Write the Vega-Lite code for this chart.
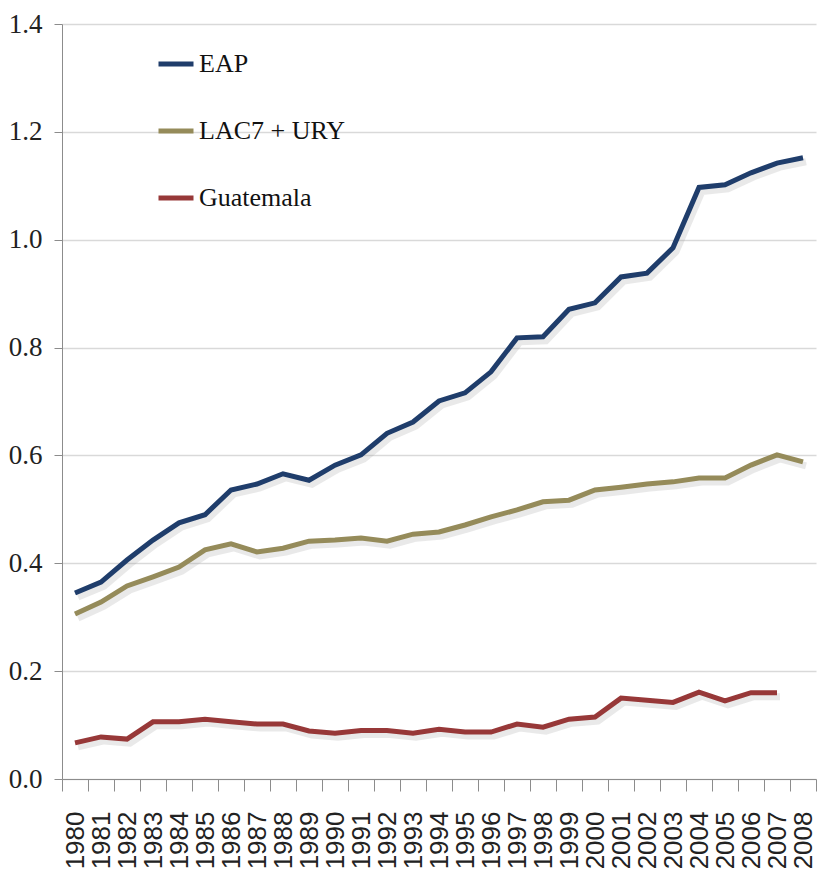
{
  "$schema": "https://vega.github.io/schema/vega-lite/v6.json",
  "width": 754,
  "height": 755,
  "autosize": "none",
  "padding": {"left": 62, "top": 24, "right": 3, "bottom": 109},
  "background": "white",
  "config": {"view": {"stroke": null}},
  "datasets": {
    "d": [
      {"year": 1980, "series": "EAP", "value": 0.345},
      {"year": 1981, "series": "EAP", "value": 0.365},
      {"year": 1982, "series": "EAP", "value": 0.406},
      {"year": 1983, "series": "EAP", "value": 0.443},
      {"year": 1984, "series": "EAP", "value": 0.475},
      {"year": 1985, "series": "EAP", "value": 0.49},
      {"year": 1986, "series": "EAP", "value": 0.536},
      {"year": 1987, "series": "EAP", "value": 0.547},
      {"year": 1988, "series": "EAP", "value": 0.566},
      {"year": 1989, "series": "EAP", "value": 0.554},
      {"year": 1990, "series": "EAP", "value": 0.582},
      {"year": 1991, "series": "EAP", "value": 0.601},
      {"year": 1992, "series": "EAP", "value": 0.641},
      {"year": 1993, "series": "EAP", "value": 0.662},
      {"year": 1994, "series": "EAP", "value": 0.701},
      {"year": 1995, "series": "EAP", "value": 0.716},
      {"year": 1996, "series": "EAP", "value": 0.755},
      {"year": 1997, "series": "EAP", "value": 0.818},
      {"year": 1998, "series": "EAP", "value": 0.82},
      {"year": 1999, "series": "EAP", "value": 0.871},
      {"year": 2000, "series": "EAP", "value": 0.883},
      {"year": 2001, "series": "EAP", "value": 0.931},
      {"year": 2002, "series": "EAP", "value": 0.938},
      {"year": 2003, "series": "EAP", "value": 0.985},
      {"year": 2004, "series": "EAP", "value": 1.097},
      {"year": 2005, "series": "EAP", "value": 1.102},
      {"year": 2006, "series": "EAP", "value": 1.124},
      {"year": 2007, "series": "EAP", "value": 1.142},
      {"year": 2008, "series": "EAP", "value": 1.152},
      {"year": 1980, "series": "LAC7 + URY", "value": 0.306},
      {"year": 1981, "series": "LAC7 + URY", "value": 0.328},
      {"year": 1982, "series": "LAC7 + URY", "value": 0.358},
      {"year": 1983, "series": "LAC7 + URY", "value": 0.375},
      {"year": 1984, "series": "LAC7 + URY", "value": 0.393},
      {"year": 1985, "series": "LAC7 + URY", "value": 0.425},
      {"year": 1986, "series": "LAC7 + URY", "value": 0.436},
      {"year": 1987, "series": "LAC7 + URY", "value": 0.421},
      {"year": 1988, "series": "LAC7 + URY", "value": 0.428},
      {"year": 1989, "series": "LAC7 + URY", "value": 0.441},
      {"year": 1990, "series": "LAC7 + URY", "value": 0.443},
      {"year": 1991, "series": "LAC7 + URY", "value": 0.447},
      {"year": 1992, "series": "LAC7 + URY", "value": 0.441},
      {"year": 1993, "series": "LAC7 + URY", "value": 0.454},
      {"year": 1994, "series": "LAC7 + URY", "value": 0.458},
      {"year": 1995, "series": "LAC7 + URY", "value": 0.471},
      {"year": 1996, "series": "LAC7 + URY", "value": 0.486},
      {"year": 1997, "series": "LAC7 + URY", "value": 0.499},
      {"year": 1998, "series": "LAC7 + URY", "value": 0.514},
      {"year": 1999, "series": "LAC7 + URY", "value": 0.517},
      {"year": 2000, "series": "LAC7 + URY", "value": 0.536},
      {"year": 2001, "series": "LAC7 + URY", "value": 0.541},
      {"year": 2002, "series": "LAC7 + URY", "value": 0.547},
      {"year": 2003, "series": "LAC7 + URY", "value": 0.551},
      {"year": 2004, "series": "LAC7 + URY", "value": 0.558},
      {"year": 2005, "series": "LAC7 + URY", "value": 0.558},
      {"year": 2006, "series": "LAC7 + URY", "value": 0.582},
      {"year": 2007, "series": "LAC7 + URY", "value": 0.601},
      {"year": 2008, "series": "LAC7 + URY", "value": 0.588},
      {"year": 1980, "series": "Guatemala", "value": 0.067},
      {"year": 1981, "series": "Guatemala", "value": 0.078},
      {"year": 1982, "series": "Guatemala", "value": 0.074},
      {"year": 1983, "series": "Guatemala", "value": 0.106},
      {"year": 1984, "series": "Guatemala", "value": 0.106},
      {"year": 1985, "series": "Guatemala", "value": 0.111},
      {"year": 1986, "series": "Guatemala", "value": 0.106},
      {"year": 1987, "series": "Guatemala", "value": 0.102},
      {"year": 1988, "series": "Guatemala", "value": 0.102},
      {"year": 1989, "series": "Guatemala", "value": 0.089},
      {"year": 1990, "series": "Guatemala", "value": 0.085},
      {"year": 1991, "series": "Guatemala", "value": 0.09},
      {"year": 1992, "series": "Guatemala", "value": 0.09},
      {"year": 1993, "series": "Guatemala", "value": 0.085},
      {"year": 1994, "series": "Guatemala", "value": 0.092},
      {"year": 1995, "series": "Guatemala", "value": 0.087},
      {"year": 1996, "series": "Guatemala", "value": 0.087},
      {"year": 1997, "series": "Guatemala", "value": 0.102},
      {"year": 1998, "series": "Guatemala", "value": 0.096},
      {"year": 1999, "series": "Guatemala", "value": 0.111},
      {"year": 2000, "series": "Guatemala", "value": 0.115},
      {"year": 2001, "series": "Guatemala", "value": 0.15},
      {"year": 2002, "series": "Guatemala", "value": 0.146},
      {"year": 2003, "series": "Guatemala", "value": 0.142},
      {"year": 2004, "series": "Guatemala", "value": 0.161},
      {"year": 2005, "series": "Guatemala", "value": 0.145},
      {"year": 2006, "series": "Guatemala", "value": 0.16},
      {"year": 2007, "series": "Guatemala", "value": 0.16}
    ]
  },
  "data": {"name": "d"},
  "encoding": {
    "x": {
      "field": "year",
      "type": "ordinal",
      "title": null,
      "scale": {"type": "band", "paddingInner": 0, "paddingOuter": 0},
      "axis": {
        "tickBand": "extent",
        "labelAngle": -90,
        "labelAlign": "right",
        "labelBaseline": "middle",
        "labelFont": "Liberation Sans, Arial, sans-serif",
        "labelFontSize": 26,
        "labelColor": "#222222",
        "labelPadding": 20,
        "tickSize": 12,
        "tickColor": "#8c8c8c",
        "domainColor": "#8c8c8c",
        "grid": false
      }
    },
    "y": {
      "field": "value",
      "type": "quantitative",
      "title": null,
      "scale": {"domain": [0, 1.4], "nice": false},
      "axis": {
        "values": [0, 0.2, 0.4, 0.6, 0.8, 1.0, 1.2, 1.4],
        "format": ".1f",
        "labelFont": "Times New Roman, Liberation Serif, DejaVu Serif, serif",
        "labelFontSize": 27,
        "labelColor": "#222222",
        "labelPadding": 12,
        "tickSize": 8,
        "tickColor": "#8c8c8c",
        "domainColor": "#8c8c8c",
        "gridColor": "#d9d9d9",
        "gridWidth": 1.5
      }
    }
  },
  "layer": [
    {
      "mark": {"type": "line", "strokeWidth": 7, "color": "#9a9a9a", "opacity": 0.22, "xOffset": 3, "yOffset": 4},
      "encoding": {"detail": {"field": "series"}}
    },
    {
      "mark": {"type": "line", "strokeWidth": 5},
      "encoding": {
        "color": {
          "field": "series",
          "type": "nominal",
          "sort": ["EAP", "LAC7 + URY", "Guatemala"],
          "scale": {"domain": ["EAP", "LAC7 + URY", "Guatemala"], "range": ["#1f3d6b", "#958b5a", "#973838"]},
          "legend": {
            "title": null,
            "orient": "none",
            "legendX": 94,
            "legendY": 20,
            "symbolType": "stroke",
            "symbolSize": 1225,
            "symbolStrokeWidth": 5,
            "labelFont": "Times New Roman, Liberation Serif, DejaVu Serif, serif",
            "labelFontSize": 26,
            "labelColor": "#111111",
            "labelOffset": 3,
            "rowPadding": 34,
            "padding": 0
          }
        }
      }
    }
  ]
}
